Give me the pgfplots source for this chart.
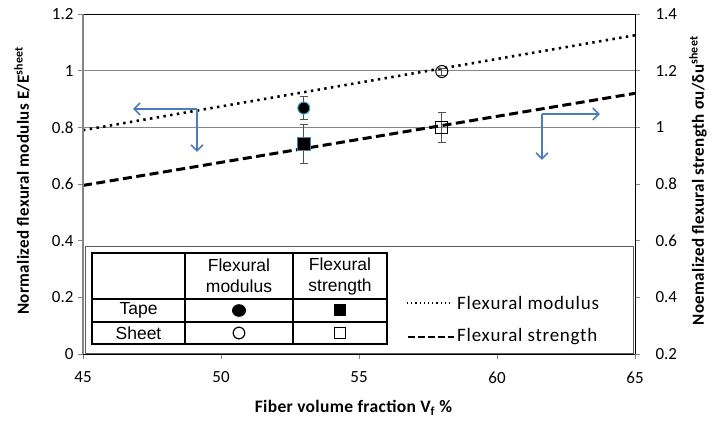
\documentclass[border=0pt]{standalone}
\usepackage{fontspec}
\setmainfont{Carlito}
\newfontfamily\arialf{Liberation Sans}
\newfontfamily\legf[LetterSpace=4]{Carlito}
\newfontfamily\labf[LetterSpace=2]{Carlito}
\usepackage{pgfplots}
\pgfplotsset{compat=1.18}
\usetikzlibrary{arrows.meta}
\definecolor{arrowblue}{RGB}{74,126,187}
\definecolor{gridgray}{RGB}{134,134,134}
\definecolor{tealedge}{RGB}{60,170,200}
\definecolor{sqedge}{RGB}{79,129,189}
\begin{document}
\begin{tikzpicture}
\useasboundingbox (-83pt,-69pt) rectangle (635pt,354pt);
\begin{axis}[
  at={(0pt,0pt)}, anchor=south west,
  scale only axis, width=552pt, height=340pt,
  xmin=45, xmax=65, ymin=0, ymax=1.2,
  xtick={45,50,55,60,65}, ytick={0,0.2,0.4,0.6,0.8,1,1.2},
  xtick pos=bottom, ytick pos=left,
  tick align=outside, major tick length=5pt,
  tick style={gridgray, line width=0.8pt},
  axis line style={black, line width=0.9pt},
  extra y ticks={0.8,1}, extra y tick labels={},
  extra y tick style={grid=major, major grid style={gridgray, line width=0.7pt}, tick style={draw=none}},
  /pgf/number format/assume math mode=true,
  ticklabel style={font=\fontsize{17}{19}\selectfont},
  xticklabel style={yshift=-9pt},
  yticklabel style={xshift=-1pt},
  xlabel={\labf\bfseries Fiber volume fraction V\textsubscript{f} \%},
  ylabel={\labf\bfseries Normalized flexural modulus E/E\textsuperscript{sheet}},
  every axis x label/.style={at={(axis description cs:0.49,-0.159)}, anchor=center, font=\fontsize{17.5}{20}\selectfont},
  every axis y label/.style={at={(axis description cs:-0.1105,0.51)}, anchor=center, rotate=90, font=\fontsize{17}{20}\selectfont},
  clip=false,
]
\addplot[black, line width=2.6pt, dash pattern=on 2.4pt off 4.4pt] coordinates {(45,0.79) (65,1.125)};
% Tape modulus
\addplot[only marks, mark=*, mark size=6pt, mark options={fill=black, draw=tealedge, line width=1pt},
  error bars/.cd, y dir=both, y explicit,
  error bar style={gridgray!60!black, line width=0.8pt},
  error mark options={rotate=90, mark size=4pt, gridgray!60!black, line width=0.8pt}]
  coordinates {(53,0.868) +- (0,0.04)};
% Sheet modulus
\addplot[only marks, mark=o, mark size=6pt, mark options={fill=white, draw=black, line width=1pt},
  error bars/.cd, y dir=both, y explicit,
  error bar style={gridgray!60!black, line width=0.8pt},
  error mark options={rotate=90, mark size=4pt, gridgray!60!black, line width=0.8pt}]
  coordinates {(58,0.997) +- (0,0.012)};
% arrows
\draw[arrowblue, line width=1.6pt, -{Straight Barb[length=6pt,width=12pt]}] (axis cs:49.13,0.865) -- (axis cs:46.81,0.865);
\draw[arrowblue, line width=1.6pt, -{Straight Barb[length=6pt,width=12pt]}] (axis cs:49.13,0.865) -- (axis cs:49.13,0.713);
\draw[arrowblue, line width=1.6pt, -{Straight Barb[length=6pt,width=12pt]}] (axis cs:61.63,0.847) -- (axis cs:63.73,0.847);
\draw[arrowblue, line width=1.6pt, -{Straight Barb[length=6pt,width=12pt]}] (axis cs:61.63,0.847) -- (axis cs:61.63,0.685);
\end{axis}
\begin{axis}[
  at={(0pt,0pt)}, anchor=south west,
  scale only axis, width=552pt, height=340pt,
  xmin=45, xmax=65, ymin=0.2, ymax=1.4,
  axis x line=none, axis y line*=right,
  ytick={0.2,0.4,0.6,0.8,1,1.2,1.4},
  tick align=outside, major tick length=5pt,
  tick style={gridgray, line width=0.8pt},
  axis line style={black, line width=0.9pt},
  /pgf/number format/assume math mode=true,
  ticklabel style={font=\fontsize{17}{19}\selectfont},
  yticklabel style={xshift=12pt},
  ylabel={\labf\bfseries Noemalized flexural strength σu/δu\textsuperscript{sheet}},
  every axis y label/.style={at={(axis description cs:1.114,0.51)}, anchor=center, rotate=90, font=\fontsize{17}{20}\selectfont},
  clip=false,
]
\addplot[black, line width=3pt, dash pattern=on 9pt off 4.5pt] coordinates {(45,0.795) (65,1.12)};
% Tape strength
\addplot[only marks, mark=square*, mark size=6.5pt, mark options={fill=black, draw=sqedge, line width=1pt},
  error bars/.cd, y dir=both, y explicit,
  error bar style={gridgray!60!black, line width=0.8pt},
  error mark options={rotate=90, mark size=4pt, gridgray!60!black, line width=0.8pt}]
  coordinates {(53,0.942) +- (0,0.07)};
% Sheet strength
\addplot[only marks, mark=square, mark size=6pt, mark options={fill=white, draw=black, line width=1pt},
  error bars/.cd, y dir=both, y explicit,
  error bar style={gridgray!60!black, line width=0.8pt},
  error mark options={rotate=90, mark size=4pt, gridgray!60!black, line width=0.8pt}]
  coordinates {(58,1.0) +- (0,0.053)};
\end{axis}
% left axis gray overlay
\draw[gridgray, line width=1.6pt] (0pt,0pt) -- (0pt,340pt);
% legend box
\draw[gridgray!70!black, line width=0.9pt, fill=white] (2pt,1pt) rectangle (550pt,108pt);
% table
\begin{scope}[line width=1.2pt]
\draw (9pt,10pt) rectangle (304pt,101pt);
\draw (9pt,55pt) -- (304pt,55pt);
\draw (9pt,32pt) -- (304pt,32pt);
\draw (102pt,10pt) -- (102pt,101pt);
\draw (210pt,10pt) -- (210pt,101pt);
\end{scope}
\node[font=\arialf\fontsize{17.5}{21}\selectfont, align=center] at (156pt,78pt) {Flexural\\modulus};
\node[font=\arialf\fontsize{17.5}{21}\selectfont, align=center] at (257pt,78pt) {Flexural\\strength};
\node[font=\arialf\fontsize{17.5}{18}\selectfont] at (55.5pt,43.5pt) {Tape};
\node[font=\arialf\fontsize{17.5}{18}\selectfont] at (55.5pt,21pt) {Sheet};
\fill[black] (156pt,43.5pt) ellipse (7pt and 6.3pt);
\draw[black, line width=1.2pt] (156pt,21pt) circle (5.8pt);
\fill[black] (251pt,37.5pt) rectangle (263pt,49.5pt);
\draw[black, line width=1.2pt] (251.5pt,15.5pt) rectangle (262.5pt,26.5pt);
% legend entries
\draw[black, line width=1.2pt, dash pattern=on 1.2pt off 3pt] (324pt,51pt) -- (369pt,51pt);
\node[anchor=west, font=\legf\fontsize{19}{22}\selectfont, inner sep=0pt] at (374pt,51pt) {Flexural modulus};
\draw[black, line width=2.4pt, dash pattern=on 7pt off 3pt] (325pt,17pt) -- (371pt,17pt);
\node[anchor=west, font=\legf\fontsize{19}{22}\selectfont, inner sep=0pt] at (374pt,17pt) {Flexural strength};
\end{tikzpicture}
\end{document}
